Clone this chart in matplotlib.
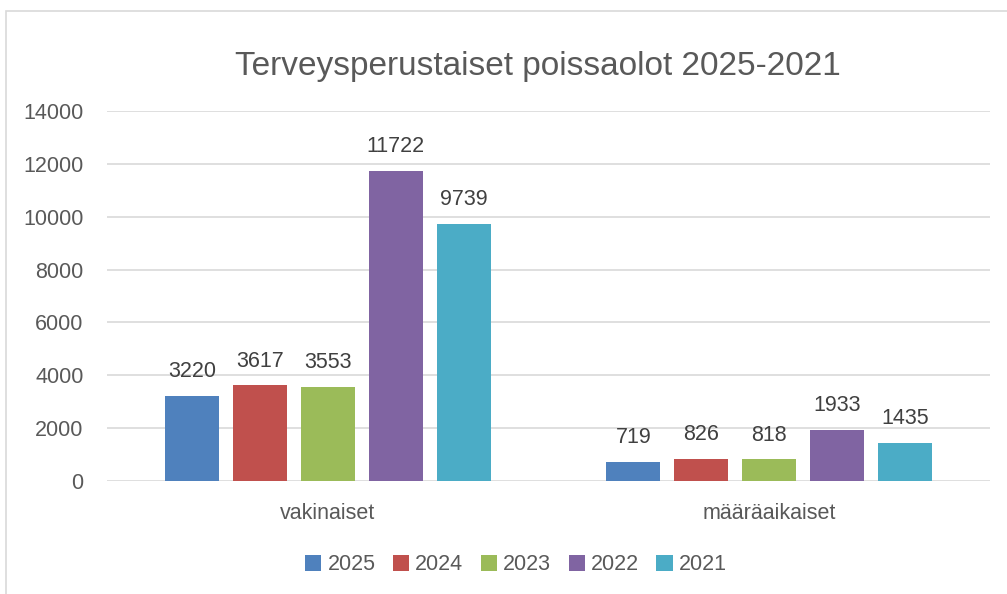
import matplotlib.pyplot as plt
import numpy as np
from matplotlib.patches import Rectangle

plt.rcParams['font.family'] = ['Liberation Sans', 'DejaVu Sans']

categories = ['vakinaiset', 'määräaikaiset']
years = ['2025', '2024', '2023', '2022', '2021']
values = {
	'2025': [3220, 719],
	'2024': [3617, 826],
	'2023': [3553, 818],
	'2022': [11722, 1933],
	'2021': [9739, 1435],
}
colors = ['#4F81BD', '#C0504D', '#9BBB59', '#8064A2', '#4BACC6']
text_color = '#595959'

fig = plt.figure(figsize=(10.07, 5.94), dpi=100)
# chart frame, its right and bottom edges fall outside the picture
fig.patches.append(Rectangle((6 / 1007, -0.1), 1.2, 1 - 11 / 594 + 0.1, transform=fig.transFigure,
	fill=False, edgecolor='#d9d9d9', linewidth=1.2))

ax = fig.add_axes([107 / 1007, 1 - 481 / 594, (990 - 107) / 1007, (481 - 111) / 594])
x = np.arange(len(categories))
width, step = 0.122, 0.154
for i, (year, color) in enumerate(zip(years, colors)):
	pos = x + (i - 2) * step
	bars = ax.bar(pos, values[year], width=width, color=color, label=year, zorder=3)
	for b, v in zip(bars, values[year]):
		ax.text(b.get_x() + b.get_width() / 2, v + 520, str(v), ha='center', va='bottom',
			fontsize=15.5, color='#404040')

ax.set_xlim(-0.5, 1.5)
ax.set_ylim(0, 14000)
ax.set_yticks(range(0, 14001, 2000))
ax.set_xticks(x)
ax.set_xticklabels(categories)
ax.tick_params(axis='both', length=0, labelsize=15.5, labelcolor=text_color)
ax.tick_params(axis='x', pad=16)
ax.tick_params(axis='y', pad=17)
ax.grid(axis='y', color='#d9d9d9', linewidth=1.2, zorder=0)
for s in ax.spines.values():
	s.set_visible(False)

fig.text(538 / 1007, 1 - 66 / 594, 'Terveysperustaiset poissaolot 2025-2021', ha='center', va='center',
	fontsize=24, color=text_color)
fig.legend(loc='center', bbox_to_anchor=(516 / 1007, 1 - 565 / 594), ncol=5, frameon=False,
	fontsize=15.5, labelcolor=text_color, handlelength=0.75, handleheight=0.75, handletextpad=0.3,
	columnspacing=0.8)

fig.savefig('out.png', dpi=100)
